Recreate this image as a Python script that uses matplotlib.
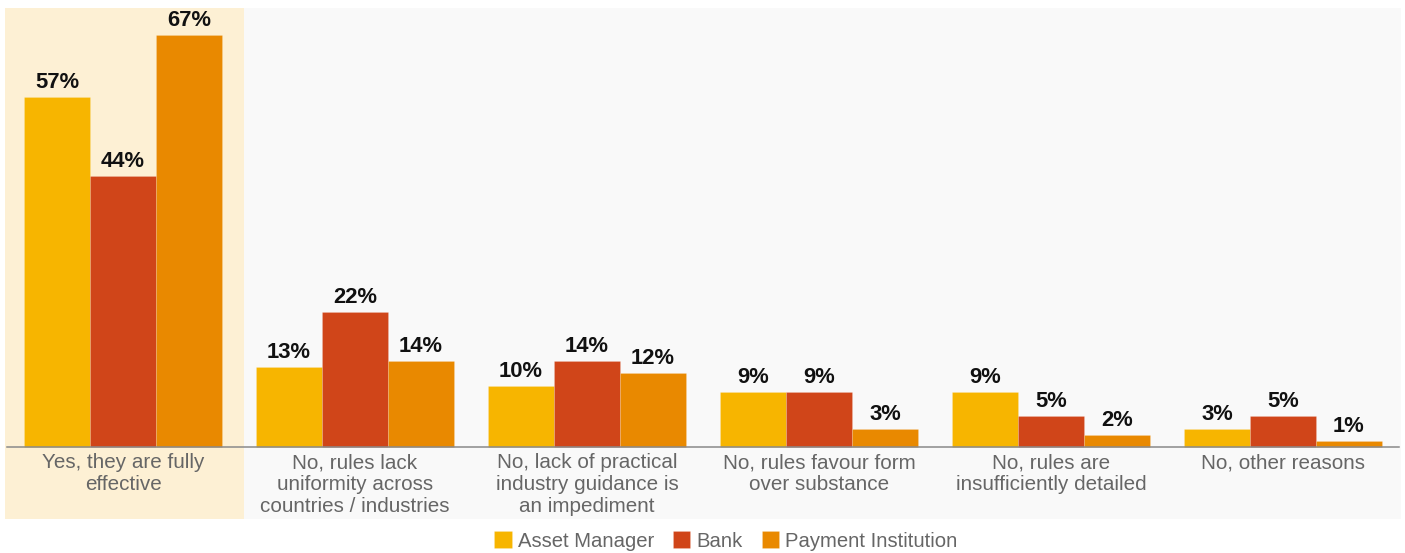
import numpy as np
import matplotlib.pyplot as plt

plt.rcParams['font.family'] = ['Liberation Sans', 'DejaVu Sans']

categories = [
    "Yes, they are fully\neffective",
    "No, rules lack\nuniformity across\ncountries / industries",
    "No, lack of practical\nindustry guidance is\nan impediment",
    "No, rules favour form\nover substance",
    "No, rules are\ninsufficiently detailed",
    "No, other reasons",
]
series = ["Asset Manager", "Bank", "Payment Institution"]
asset_manager = [57, 13, 10, 9, 9, 3]
bank = [44, 22, 14, 9, 5, 5]
payment_inst = [67, 14, 12, 3, 2, 1]
colors = ["#F7B500", "#D04519", "#E98900"]

W, H = 1405, 553
fig = plt.figure(figsize=(W / 100, H / 100), dpi=100)
ax = fig.add_axes([5 / W, 34 / H, 1396 / W, 511 / H])
ax.set_facecolor("#F9F9F9")

x = np.arange(len(categories))
bw = 66 / 232
step = 2 / 232
ax.set_xlim(-0.5 - step, len(categories) - 0.5 + step)
ax.set_ylim(-11.7, 71.4)

# highlight the "yes" column
ax.axvspan(-1, 0.52, color="#FDF0D4", zorder=0, lw=0)

for i, (vals, name, c) in enumerate(zip([asset_manager, bank, payment_inst], series, colors)):
    pos = x + (i - 1) * bw
    ax.bar(pos, vals, width=bw, color=c, label=name, zorder=2,
           edgecolor=(1, 1, 1, 0.2), linewidth=0.5)
    for px, v in zip(pos, vals):
        ax.text(px, v + 0.65, f"{v}%", ha="center", va="bottom",
                fontsize=15.8, fontweight="bold", color="#111111", zorder=3)

ax.plot([-0.5, len(categories) - 0.5], [0, 0], color="#8A8A8A", lw=1.1, zorder=3)

for xi, lab in zip(x, categories):
    ax.text(xi, -1.0, lab, ha="center", va="top", fontsize=14.9,
            color="#666666", linespacing=1.2)

for s in ax.spines.values():
    s.set_visible(False)
ax.set_xticks([])
ax.set_yticks([])

fig.legend(loc="center", bbox_to_anchor=(726 / W, 1 - 541 / H), ncol=3,
           frameon=False, fontsize=14.6, handlelength=0.85, handleheight=0.85,
           handletextpad=0.3, columnspacing=0.95, labelcolor="#666666")

fig.savefig("out.png", dpi=100, facecolor="white")
